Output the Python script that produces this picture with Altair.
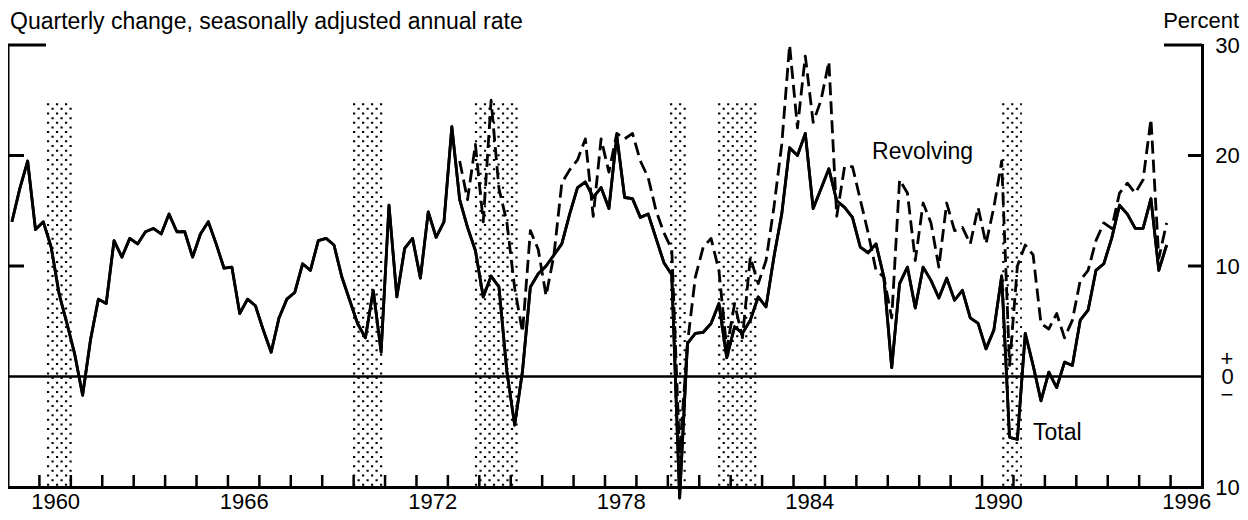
import altair as alt
import numpy as np
import pandas as pd

# ---------------- data ----------------
FIRST_YEAR = 1959  # first quarter shown: 1959 Q1
total = [
    14.0, 17.0, 19.5, 13.3, 14.0, 11.7, 7.5, 4.8, 2.0, -1.7,
    3.3, 7.0, 6.6, 12.3, 10.8, 12.5, 12.0, 13.1, 13.4, 12.9,
    14.7, 13.1, 13.1, 10.8, 12.9, 14.0, 12.0, 9.8, 9.9, 5.7,
    7.0, 6.4, 4.2, 2.2, 5.3, 7.0, 7.6, 10.2, 9.6, 12.3,
    12.5, 11.9, 9.0, 6.9, 4.8, 3.5, 7.8, 2.2, 15.5, 7.2,
    11.6, 12.5, 8.9, 14.9, 12.6, 14.0, 22.6, 16.0, 13.5, 11.4,
    7.2, 9.1, 8.1, 0.5, -4.4, 0.5, 8.1, 9.3, 10.0, 11.0,
    12.0, 14.7, 17.1, 17.6, 16.2, 17.1, 15.2, 21.8, 16.2, 16.1,
    14.4, 14.7, 12.5, 10.3, 9.2, -11.0, 3.0, 3.9, 4.0, 4.8,
    6.6, 1.7, 4.5, 3.9, 5.1, 7.2, 6.3, 10.8, 14.7, 20.7,
    20.0, 22.0, 15.2, 17.0, 18.8, 15.9, 15.3, 14.4, 11.7, 11.2,
    12.0, 9.0, 0.8, 8.4, 9.9, 6.2, 9.9, 8.7, 7.1, 8.9,
    6.9, 7.8, 5.3, 4.8, 2.5, 4.2, 9.1, -5.5, -5.7, 3.9,
    1.0, -2.2, 0.4, -1.0, 1.3, 1.0, 5.1, 6.0, 9.6, 10.2,
    12.5, 15.5, 14.7, 13.4, 13.4, 16.1, 9.6, 11.9,
]
REV_START = 57  # revolving series begins at 1973 Q2
revolving = [
    19.5, 16.0, 21.0, 14.0, 25.0, 17.0, 14.0, 8.0, 4.0, 13.2,
    11.5, 7.3, 11.0, 17.5, 18.7, 19.6, 21.5, 14.5, 21.5, 18.5,
    22.0, 21.5, 22.0, 19.5, 18.0, 15.0, 13.0, 11.5, -7.0, 3.0,
    9.0, 11.7, 12.5, 9.6, 2.5, 6.6, 3.5, 10.8, 8.4, 10.5,
    15.3, 21.0, 30.0, 22.5, 29.0, 23.0, 25.0, 28.5, 14.5, 19.0,
    19.0, 16.0, 13.0, 9.6, 9.0, 5.3, 17.8, 16.6, 10.5, 15.7,
    13.9, 9.9, 15.7, 13.2, 13.5, 12.0, 15.3, 12.0, 15.3, 19.5,
    1.0, 10.0, 11.9, 11.0, 4.8, 4.3, 5.7, 3.5, 5.1, 8.7,
    9.6, 12.3, 13.9, 13.4, 16.6, 17.5, 16.6, 17.8, 23.3, 10.7,
    13.9,
]
rec_start = [1960.24, 1969.98, 1973.86, 1980.07, 1981.60, 1990.64]
rec_end = [1961.07, 1970.93, 1975.23, 1980.61, 1982.87, 1991.27]
REC_TOP = 24.8
label_years = [1960, 1966, 1972, 1978, 1984, 1990, 1996]
tick_years = list(range(1960, 1997))
y_labels = [30, 20, 10, 0, -10]
TITLE = "Quarterly change, seasonally adjusted annual rate"
UNIT = "Percent"

# ---------------- frames ----------------
W, H = 1194, 442
FONT = "Liberation Sans"
FS_AX = 22
FS_TXT = 23
LAB_X = 25  # distance of right-axis label centres from the axis line
PAD_TOP = 37

def qtime(k):
    return FIRST_YEAR + 0.125 + 0.25 * np.asarray(k)

df_total = pd.DataFrame({"t": qtime(np.arange(len(total))), "v": total})
df_rev = pd.DataFrame({"t": qtime(np.arange(REV_START, REV_START + len(revolving))), "v": revolving})

# stipple texture for the recession bands
rows = []
levels = np.arange(-10 + 0.2, REC_TOP, 0.42)
for a, b in zip(rec_start, rec_end):
    for i, lv in enumerate(levels):
        rows.append({"t": a, "t2": b, "v": lv, "odd": i % 2})
df_st = pd.DataFrame(rows)

xs = alt.Scale(domain=[1959, 1997], nice=False, zero=False)
ys = alt.Scale(domain=[-10, 30], nice=False, zero=False)

x_axis = alt.Axis(
    values=[y + 0.5 for y in label_years], labelExpr="floor(datum.value)",
    ticks=False, grid=False, domainColor="black", domainWidth=3, domainCap="square",
    labelFont=FONT, labelFontSize=FS_AX, labelColor="black", labelPadding=4, title=None,
    labelFlush=False, labelOverlap=False,
)
y_axis = alt.Axis(
    orient="right", values=y_labels,
    labelExpr="format(abs(datum.value), 'd')",
    ticks=False, grid=False, domainColor="black", domainWidth=3, domainCap="square",
    labelFont=FONT, labelFontSize=FS_AX, labelColor="black", labelPadding=LAB_X, labelAlign="center",
    labelBaseline="middle", labelFlush=False, labelOverlap=False, title=None,
)

def X(field="t"):
    return alt.X(f"{field}:Q", scale=xs, axis=x_axis)

def Y(field="v"):
    return alt.Y(f"{field}:Q", scale=ys, axis=y_axis)

total_line = alt.Chart(df_total).mark_line(color="black", strokeWidth=2.8, strokeJoin="round").encode(
    x=X(), y=Y()
)
rev_line = alt.Chart(df_rev).mark_line(
    color="black", strokeWidth=2.8, strokeDash=[13, 6], strokeJoin="round"
).encode(x=X(), y=Y())

stip_even = alt.Chart(df_st).transform_filter("datum.odd == 0").mark_rule(
    color="black", strokeWidth=2, strokeDash=[2.2, 6.8]
).encode(x=X(), x2="t2:Q", y=Y())
stip_odd = alt.Chart(df_st).transform_filter("datum.odd == 1").mark_rule(
    color="black", strokeWidth=2, strokeDash=[2.2, 6.8], strokeDashOffset=4.5
).encode(x=X(), x2="t2:Q", y=Y())

zero_line = alt.Chart(pd.DataFrame({"v": [0]})).mark_rule(color="black", strokeWidth=2.6).encode(
    y=Y(), x=alt.value(0), x2=alt.value(W)
)
left_frame = alt.Chart(pd.DataFrame({"v": [30]})).mark_rule(color="black", strokeWidth=3).encode(
    x=alt.value(0), y=alt.value(0), y2=alt.value(H)
)
long_ticks_l = alt.Chart(pd.DataFrame({"v": [30]})).mark_rule(color="black", strokeWidth=3).encode(
    y=Y(), x=alt.value(0), x2=alt.value(38)
)
short_ticks_l = alt.Chart(pd.DataFrame({"v": [20, 10]})).mark_rule(color="black", strokeWidth=3).encode(
    y=Y(), x=alt.value(0), x2=alt.value(16)
)
long_ticks_r = alt.Chart(pd.DataFrame({"v": [30]})).mark_rule(color="black", strokeWidth=3).encode(
    y=Y(), x=alt.value(W - 38), x2=alt.value(W)
)
short_ticks_r = alt.Chart(pd.DataFrame({"v": [20, 10]})).mark_rule(color="black", strokeWidth=3).encode(
    y=Y(), x=alt.value(W - 14), x2=alt.value(W)
)
bottom_ticks = alt.Chart(pd.DataFrame({"t": tick_years})).mark_rule(color="black", strokeWidth=2.5).encode(
    x=X(), y=alt.value(H - 12), y2=alt.value(H)
)

# "+" above and "−" below the zero label on the right axis
plus_mark = alt.Chart(pd.DataFrame({"v": [0], "label": ["+"]})).mark_text(
    align="center", baseline="middle", font=FONT, fontSize=FS_AX, color="black", dy=-18
).encode(x=alt.value(W + LAB_X), y=Y(), text="label:N")
minus_mark = alt.Chart(pd.DataFrame({"v": [0], "label": ["\u2212"]})).mark_text(
    align="center", baseline="middle", font=FONT, fontSize=FS_AX, color="black", dy=18
).encode(x=alt.value(W + LAB_X), y=Y(), text="label:N")

ann = pd.DataFrame({"t": [1986.5, 1991.62], "v": [20.3, -5.1], "label": ["Revolving", "Total"]})
labels = alt.Chart(ann).mark_text(
    align="left", baseline="middle", font=FONT, fontSize=FS_TXT, color="black"
).encode(x=X(), y=Y(), text="label:N")

title_text = alt.Chart(pd.DataFrame({"label": [TITLE]})).mark_text(
    align="left", baseline="top", font=FONT, fontSize=23, color="black"
).encode(x=alt.value(2), y=alt.value(-PAD_TOP + 3), text="label:N")
unit_text = alt.Chart(pd.DataFrame({"label": [UNIT]})).mark_text(
    align="right", baseline="top", font=FONT, fontSize=FS_AX, color="black"
).encode(x=alt.value(W + 37), y=alt.value(-PAD_TOP + 3), text="label:N")

chart = alt.layer(
    total_line, stip_even, stip_odd, zero_line, left_frame, long_ticks_l, short_ticks_l,
    long_ticks_r, short_ticks_r, bottom_ticks, rev_line, total_line, labels, title_text, unit_text,
    plus_mark, minus_mark,
).properties(
    width=W, height=H,
    padding={"left": 0, "top": PAD_TOP, "right": 38, "bottom": 25},
    autosize=alt.AutoSizeParams(type="none"),
    background="white",
).configure_view(stroke=None)

chart.save("out.html", embed_options={"renderer": "svg", "actions": False})
